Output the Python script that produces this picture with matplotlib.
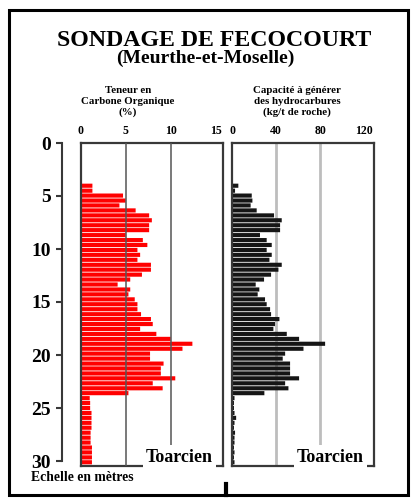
import matplotlib
matplotlib.use("Agg")
import matplotlib.pyplot as plt
from matplotlib.patches import Rectangle
from matplotlib.lines import Line2D

plt.rcParams['font.family'] = ['Liberation Serif', 'DejaVu Serif']
plt.rcParams['font.weight'] = 'bold'

# ---------------- data ----------------
depth_m = [4.03, 4.50, 4.96, 5.43, 5.89, 6.36, 6.83, 7.29, 7.76, 8.22,
           8.69, 9.16, 9.62, 10.09, 10.55, 11.02, 11.49, 11.95, 12.42, 12.88,
           13.35, 13.82, 14.28, 14.75, 15.21, 15.68, 16.15, 16.61, 17.08, 17.54,
           18.01, 18.48, 18.94, 19.41, 19.87, 20.34, 20.81, 21.27, 21.74, 22.20,
           22.67, 23.14, 23.60, 24.07, 24.53, 25.00, 25.47, 25.93, 26.40, 26.86,
           27.33, 27.80, 28.26, 28.73, 29.19, 29.66, 30.12]

carbone_org = [1.3, 1.3, 4.7, 5.0, 4.3, 6.1, 7.6, 7.9, 7.6, 7.6,
               5.0, 6.9, 7.4, 6.3, 6.6, 6.3, 7.8, 7.8, 6.8, 5.5,
               4.1, 5.5, 5.3, 6.0, 6.3, 6.3, 6.7, 7.8, 8.0, 6.6,
               8.4, 10.0, 12.4, 11.3, 7.7, 7.7, 9.2, 8.9, 8.9, 10.5,
               8.0, 9.1, 5.3, 1.0, 1.05, 1.05, 1.2, 1.2, 1.2, 1.2,
               1.1, 1.1, 1.1, 1.25, 1.25, 1.25, 1.25]

capacite_hc = [5.5, 2.5, 17.7, 18.3, 16.7, 22.2, 38.0, 45.0, 43.5, 43.5,
               25.2, 31.3, 35.9, 31.3, 35.9, 33.8, 45.0, 42.0, 35.3, 28.9,
               21.3, 24.6, 23.1, 29.8, 31.3, 34.4, 35.3, 42.9, 38.9, 37.4,
               49.6, 60.8, 84.5, 64.8, 48.1, 45.9, 52.6, 52.6, 52.6, 60.8,
               48.1, 51.1, 29.2, 2.0, 1.5, 1.5, 2.0, 3.5, 2.0, 1.5,
               2.5, 2.0, 2.0, 1.5, 2.0, 1.5, 2.0]

depth_ticks = [0, 5, 10, 15, 20, 25, 30]
toc_ticks = [0, 5, 10, 15]
toc_grid = [5, 10]
hc_ticks = [0, 40, 80, 120]
hc_grid = [40, 80]

title = "SONDAGE DE FECOCOURT"
subtitle = "(Meurthe-et-Moselle)"
label_toc = ["Teneur en", "Carbone Organique", "(%)"]
label_hc = ["Capacité à générer", "des hydrocarbures", "(kg/t de roche)"]
etage = "Toarcien"
echelle = "Echelle en mètres"

# ---------------- layout ----------------
W, H = 413, 498
fig = plt.figure(figsize=(W / 100, H / 100), dpi=100)
fig.patch.set_facecolor('white')

def fx(x):
    return x / W

def fy(y):
    return 1 - y / H

panel_top, panel_bot = 143.0, 466.0
frame_col = '#383838'

# depth scale axis
ax_d = fig.add_axes([fx(62), fy(461), 0.0005, (461 - 143) / H])
ax_d.set_ylim(30, 0)
ax_d.set_xticks([])
ax_d.set_yticks(depth_ticks)
ax_d.set_yticklabels([str(t) for t in depth_ticks], fontsize=14, fontweight='bold')
ax_d.tick_params(axis='y', direction='out', length=4, width=1.5, color=frame_col, pad=4)
for s in ['top', 'right', 'bottom']:
    ax_d.spines[s].set_visible(False)
ax_d.spines['left'].set_linewidth(1.5)
ax_d.spines['left'].set_color(frame_col)
ax_d.patch.set_visible(False)

ymax = (panel_bot - panel_top) / 10.6

# left panel: organic carbon
ax1 = fig.add_axes([fx(80.7), fy(panel_bot), (223 - 80.7) / W, (panel_bot - panel_top) / H])
ax1.barh(depth_m, carbone_org, height=0.39, color='#ff0000', zorder=2, snap=False, linewidth=0)
for g in toc_grid:
    ax1.axvline(g, color='#555555', lw=1.1, zorder=3)
ax1.set_xlim(0, 15.8)
ax1.set_ylim(ymax, 0)
ax1.set_xticks(toc_ticks)
ax1.set_xticklabels([str(t) for t in toc_ticks], fontsize=8.5, fontweight='bold')
ax1.xaxis.tick_top()
ax1.tick_params(axis='x', length=0, pad=4)
ax1.set_yticks([])
for s in ax1.spines.values():
    s.set_linewidth(1.6)
    s.set_color(frame_col)
ax1.text(0.93, 0.013, etage, transform=ax1.transAxes, ha='right', va='baseline',
         fontsize=13, fontweight='bold', zorder=5,
         bbox=dict(facecolor='white', edgecolor='none', pad=2.5))

# right panel: hydrocarbon potential
ax2 = fig.add_axes([fx(232.3), fy(panel_bot), (374 - 232.3) / W, (panel_bot - panel_top) / H])
for g in hc_grid:
    ax2.axvline(g, color='#bdbdbd', lw=2.0, zorder=1)
ax2.barh(depth_m, capacite_hc, height=0.39, color='#151515', zorder=2, snap=False, linewidth=0)
ax2.set_xlim(0, 129)
ax2.set_ylim(ymax, 0)
ax2.set_xticks(hc_ticks)
ax2.set_xticklabels([str(t) for t in hc_ticks], fontsize=8.5, fontweight='bold')
ax2.xaxis.tick_top()
ax2.tick_params(axis='x', length=0, pad=4)
ax2.set_yticks([])
for s in ax2.spines.values():
    s.set_linewidth(1.6)
    s.set_color(frame_col)
ax2.text(0.929, 0.013, etage, transform=ax2.transAxes, ha='right', va='baseline',
         fontsize=13, fontweight='bold', zorder=5,
         bbox=dict(facecolor='white', edgecolor='none', pad=2.5))

# titles
fig.text(fx(214), fy(45.5), title, ha='center', va='baseline', fontsize=17.2, fontweight='bold')
fig.text(fx(205), fy(63), subtitle, ha='center', va='baseline', fontsize=14, fontweight='bold')

for i, (a, b) in enumerate(zip(label_toc, label_hc)):
    yb = [93, 104, 114.5][i]
    fig.text(fx(128), fy(yb), a, ha='center', va='baseline', fontsize=7.8, fontweight='bold')
    fig.text(fx(297), fy(yb), b, ha='center', va='baseline', fontsize=7.8, fontweight='bold')

fig.text(fx(31), fy(481), echelle, ha='left', va='baseline', fontsize=9.8, fontweight='bold')

# outer frame and bottom mark
fig.patches.append(Rectangle((fx(9), fy(495)), (408 - 9) / W, (495 - 10) / H,
                             transform=fig.transFigure, fill=False, edgecolor='black', lw=2.2))
fig.lines.append(Line2D([fx(226), fx(226)], [fy(495), fy(484)], transform=fig.transFigure,
                        color='black', lw=3))

fig.savefig('out.png', dpi=100, facecolor='white')
